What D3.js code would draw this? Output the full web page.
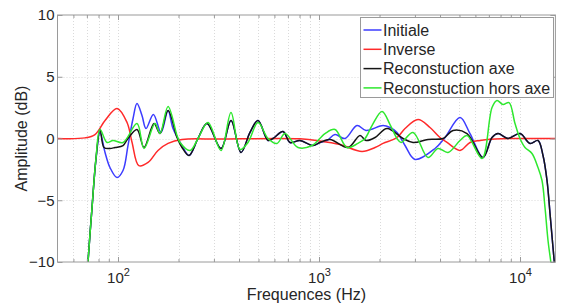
<!DOCTYPE html>
<html>
<head>
<meta charset="utf-8">
<script src="https://cdn.jsdelivr.net/npm/d3@7"></script>
<style>
  body { margin: 0; background: #fff; }
  svg { display: block; font-family: "Liberation Sans", Arial, sans-serif; }
</style>
</head>
<body>
<svg id="chart" width="561" height="305"></svg>
<script>
// values (frequency in Hz, amplitude in dB)
const initialeHz = [69, 70.9, 74.2, 77.7, 81.4, 86.2, 91.2, 98.9, 105.9, 112.1, 118.8, 124.3, 131.6, 137.8, 150, 163.7, 177.4, 187.8, 208.2, 225.6, 250, 277.2, 325.4, 364.9, 409.3, 453.6, 497.3, 557.6, 590.4, 662.1, 717.4, 804.4, 933.5, 1011, 1096, 1201, 1347, 1546, 1713, 2082, 2256, 2444, 2679, 3003, 3777, 4236, 5029, 5641, 6545, 7257, 7771, 8717, 10000, 11215, 12290, 13015, 13627, 14103, 14593, 15106];
const initialeDb = [-13.5, -10, -5.67, -1.7, 0.49, -1.13, -2.35, -3.16, -2.59, -0.57, 1.62, 2.83, 1.86, 0.81, 1.95, 0.49, 2.27, 0.81, -0.57, -1.38, 0, 1.21, -0.81, 1.46, -1.13, 0.49, 1.46, -0.16, 0, 0.57, -0.32, -0.16, -0.57, -0.32, -0.16, 0.32, 0, 1.05, 0.65, 1.05, 0.89, 0.49, -0.57, -1.7, -0.81, 0.08, 1.7, 0.4, -1.54, 0.08, 0.4, 0, 0.4, -0.4, -0.16, -1.38, -3.4, -6.07, -8.83, -11.5];

const inverseHz = [50, 68.5, 76.8, 86.2, 98.9, 110.9, 117.4, 127, 141.1, 158.1, 177.4, 208.2, 321.8, 804.4, 1011, 1272, 1637, 1900, 2082, 2444, 2679, 3109, 3566, 3999, 4334, 5029, 5641, 6324, 7509, 10000, 15000];
const inverseDb = [0, 0.05, 0.32, 1.46, 2.43, 1.3, -0.3, -2.2, -1.94, -0.97, -0.4, -0.08, -0.05, -0.03, -0.2, -0.49, -1.05, -0.73, -0.4, 0.08, 0.81, 1.54, 0.89, 0.08, -0.32, -0.97, -0.32, -0.16, -0.04, 0, 0];

const axeHz = [69, 70.9, 74.2, 77.7, 81.4, 85.2, 91.2, 96.6, 105.9, 112.1, 124.3, 134.7, 151.1, 161.8, 177.4, 196.6, 208.2, 225.6, 250, 277.2, 325.4, 364.9, 409.3, 453.6, 497.3, 557.6, 590.4, 662.1, 717.4, 804.4, 933.5, 1011, 1134, 1394, 1600, 1713, 1900, 2180, 2618, 2936, 3485, 4140, 4642, 5450, 6545, 7257, 7771, 8717, 10000, 11215, 12290, 13015, 13627, 14103, 14593, 15106];
const axeDb = [-13.5, -10, -5.67, -1.62, 0.73, -0.73, -0.81, -0.73, -0.57, 0, 0.73, -0.73, 1.21, 0.4, 2.27, 0.08, -0.73, -1.38, 0, 1.21, -0.81, 1.46, -1.13, 0.49, 1.46, -0.16, 0, 0.57, -0.32, -0.16, -0.57, -0.32, -0.08, -0.73, 0.24, -0.16, 0.08, 0.81, 0, -0.32, -0.08, 0, 0.65, 0.4, -1.54, 0.08, 0.4, 0, 0.4, -0.4, -0.16, -1.38, -3.4, -6.07, -8.83, -11.5];

const horsHz = [69, 70.9, 74.2, 77.7, 81.4, 88.2, 94.4, 105.9, 124.3, 134.7, 152.8, 161.8, 177.4, 196.6, 203.5, 228.2, 250, 280.4, 325.4, 364.9, 404.6, 443.5, 497.3, 557.6, 618, 677.4, 786.1, 923, 1071, 1201, 1378, 1560, 1694, 1835, 2058, 2256, 2444, 2559, 2936, 3485, 3908, 4384, 5029, 5450, 6471, 7257, 7682, 8231, 8818, 9443, 10000, 10590, 11471, 12290, 12867, 13316, 13784, 14264, 14593];
const horsDb = [-13.5, -10, -5.67, -1.62, 0.73, -0.32, -0.16, -0.32, 1.21, -0.81, 1.21, 0.4, 2.59, 0.24, -0.32, -0.97, 0, 1.3, -0.97, 2.11, -0.89, -0.32, 1.3, 0, -0.4, 0.4, -0.73, -0.57, 0.4, 0.73, -0.73, -0.4, 0, 1.05, 2.19, 1.13, 0, -0.32, 0.49, -1.54, -0.81, -1.13, -0.16, 0.24, -1.62, 2.51, 3.08, 2.75, 2.91, 1.21, 0, -0.73, -1.21, -2.35, -3.4, -5.59, -8.26, -10.12, -11.5];

const seriesNames = ["Initiale", "Inverse", "Reconstuction axe", "Reconstuction hors axe"];
const seriesColors = ["#3c3cff", "#ff2a2a", "#151515", "#2ee82e"];
const yTicks = [-10, -5, 0, 5, 10];
const xMajorTicks = [100, 1000, 10000];

const series = [
  d3.zip(initialeHz, initialeDb),
  d3.zip(inverseHz, inverseDb),
  d3.zip(axeHz, axeDb),
  d3.zip(horsHz, horsDb),
];

const plot = {left: 57.5, right: 555.4, top: 15, bottom: 262};

const x = d3.scaleLog().domain([50, 15000]).range([plot.left, plot.right]);
const y = d3.scaleLinear().domain([-10, 10]).range([plot.bottom, plot.top]);

const svg = d3.select("#chart");
const axisGray = "#9a9a9a";
const textColor = "#262626";

// grid (dotted, MATLAB style, with minor lines on the log axis)
const grid = svg.append("g").attr("stroke", "#dadada").attr("stroke-dasharray", "1,2").attr("stroke-width", 1);
grid.selectAll("line.v")
  .data(x.ticks().filter(f => f > 50 && f < 15000))
  .join("line")
  .attr("x1", d => Math.round(x(d)) + 0.5).attr("x2", d => Math.round(x(d)) + 0.5)
  .attr("y1", plot.top).attr("y2", plot.bottom);
grid.selectAll("line.h")
  .data(yTicks.slice(1, -1))
  .join("line")
  .attr("x1", plot.left).attr("x2", plot.right)
  .attr("y1", d => Math.round(y(d)) + 0.5).attr("y2", d => Math.round(y(d)) + 0.5);

// curves
svg.append("clipPath").attr("id", "clip")
  .append("rect")
  .attr("x", plot.left).attr("y", plot.top)
  .attr("width", plot.right - plot.left).attr("height", plot.bottom - plot.top);

const line = d3.line()
  .x(d => x(d[0]))
  .y(d => y(d[1]))
  .curve(d3.curveCatmullRom.alpha(0.5));

svg.append("g").attr("clip-path", "url(#clip)")
  .selectAll("path")
  .data(series)
  .join("path")
  .attr("fill", "none")
  .attr("stroke", (d, i) => seriesColors[i])
  .attr("stroke-width", 1.5)
  .attr("stroke-linejoin", "round")
  .attr("d", line);

// axes: ticks point inward on all four sides
function styleAxis(g) {
  g.select(".domain").remove();
  g.selectAll(".tick line").attr("stroke", axisGray);
  g.selectAll("text").attr("fill", textColor).attr("font-size", 15);
}

const minorTicks = x.ticks().filter(f => !xMajorTicks.includes(f) && f > 50 && f < 15000);

svg.append("g")
  .attr("transform", `translate(0,${plot.bottom})`)
  .call(d3.axisBottom(x).tickValues(xMajorTicks).tickSize(-5).tickPadding(10).tickFormat(() => "10"))
  .call(styleAxis)
  .call(g => g.selectAll("text")
    .attr("text-anchor", "middle")
    .append("tspan")
    .attr("dy", -7)
    .attr("font-size", 11)
    .text(d => Math.round(Math.log10(d))));

svg.append("g")
  .attr("transform", `translate(0,${plot.bottom})`)
  .call(d3.axisBottom(x).tickValues(minorTicks).tickSize(-3).tickFormat(""))
  .call(styleAxis);

svg.append("g")
  .attr("transform", `translate(0,${plot.top})`)
  .call(d3.axisTop(x).tickValues(xMajorTicks).tickSize(-5).tickFormat(""))
  .call(styleAxis);

svg.append("g")
  .attr("transform", `translate(0,${plot.top})`)
  .call(d3.axisTop(x).tickValues(minorTicks).tickSize(-3).tickFormat(""))
  .call(styleAxis);

svg.append("g")
  .attr("transform", `translate(${plot.left},0)`)
  .call(d3.axisLeft(y).tickValues(yTicks).tickSize(-5).tickPadding(3))
  .call(styleAxis);

svg.append("g")
  .attr("transform", `translate(${plot.right},0)`)
  .call(d3.axisRight(y).tickValues(yTicks).tickSize(-5).tickFormat(""))
  .call(styleAxis);

svg.append("rect")
  .attr("x", plot.left).attr("y", plot.top)
  .attr("width", plot.right - plot.left).attr("height", plot.bottom - plot.top)
  .attr("fill", "none").attr("stroke", axisGray);

// axis labels
svg.append("text")
  .attr("x", (plot.left + plot.right) / 2).attr("y", 300)
  .attr("text-anchor", "middle").attr("font-size", 16).attr("fill", textColor)
  .text("Frequences (Hz)");

svg.append("text")
  .attr("transform", `translate(27,${(plot.top + plot.bottom) / 2}) rotate(-90)`)
  .attr("text-anchor", "middle").attr("font-size", 16).attr("fill", textColor)
  .text("Amplitude (dB)");

// legend
const legend = svg.append("g").attr("transform", "translate(360.5,17.5)");
legend.append("rect")
  .attr("width", 193).attr("height", 80)
  .attr("fill", "#fff").attr("stroke", axisGray);
const rows = legend.selectAll("g.row")
  .data(seriesNames)
  .join("g")
  .attr("transform", (d, i) => `translate(0,${12.5 + i * 19.3})`);
rows.append("line")
  .attr("x1", 3).attr("x2", 21)
  .attr("stroke", (d, i) => seriesColors[i]).attr("stroke-width", 1.5);
rows.append("text")
  .attr("x", 22.5).attr("dy", "0.35em")
  .attr("font-size", 16).attr("fill", textColor)
  .text(d => d);
</script>
</body>
</html>
